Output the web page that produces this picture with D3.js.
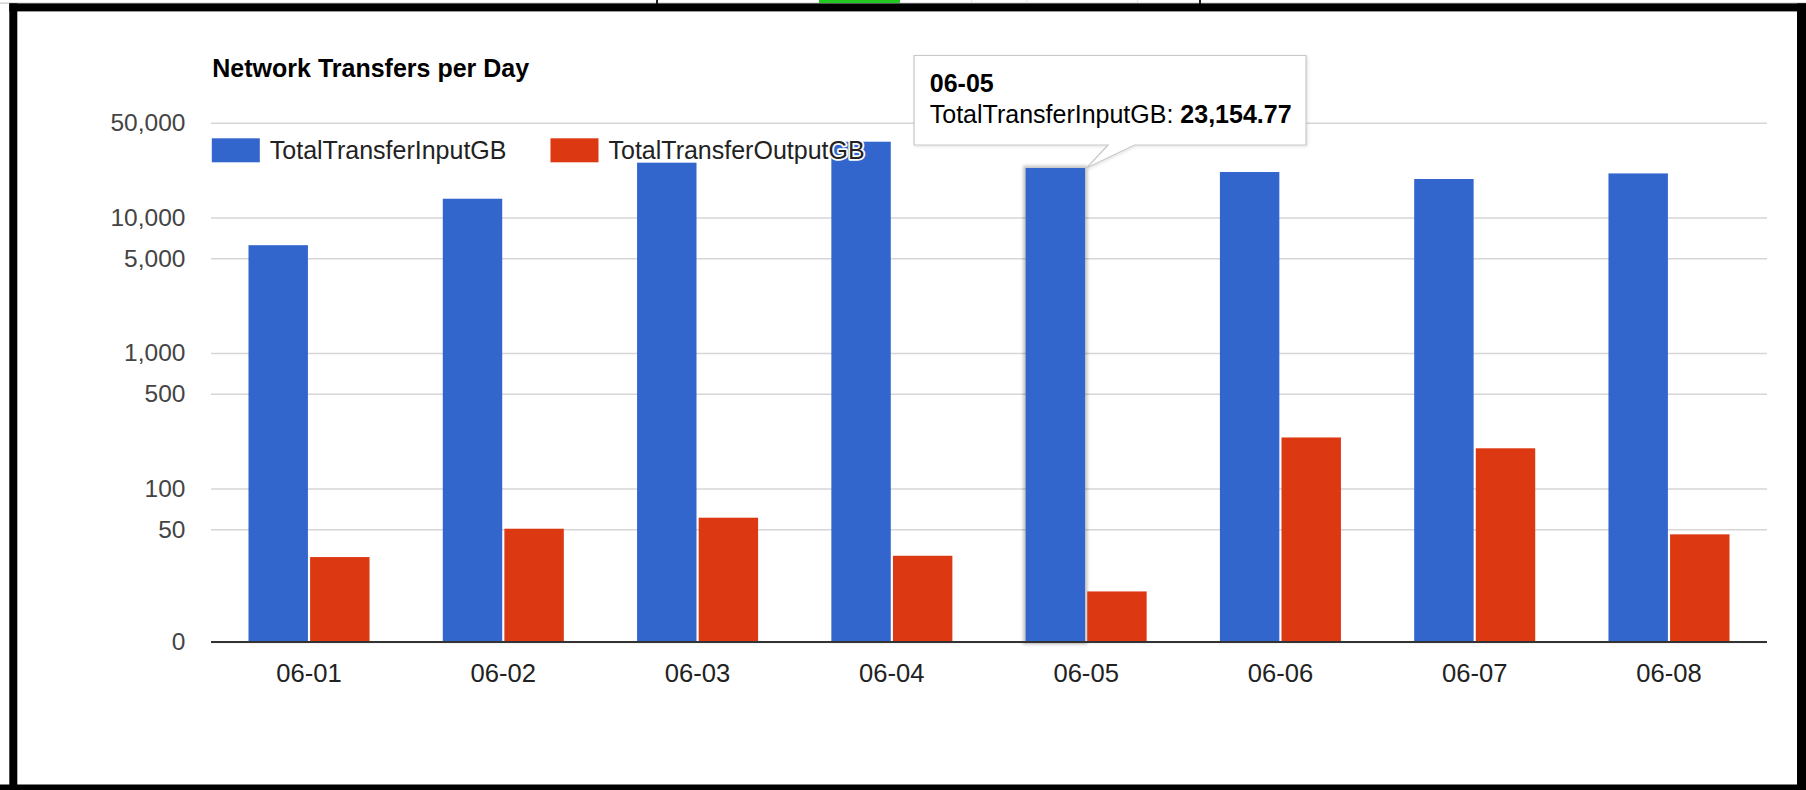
<!DOCTYPE html>
<html>
<head>
<meta charset="utf-8">
<script src="https://cdn.jsdelivr.net/npm/d3@7"></script>
<style>
  body { margin: 0; background: #fff; }
  svg { display: block; }
  text { font-family: "Liberation Sans", Arial, sans-serif; }
</style>
</head>
<body>
<svg id="chart" width="1806" height="790"></svg>
<script>
// ---------------- data ----------------
const categories = ["06-01", "06-02", "06-03", "06-04", "06-05", "06-06", "06-07", "06-08"];
const seriesNames = ["TotalTransferInputGB", "TotalTransferOutputGB"];
const inputGB  = [6240, 13740, 25350, 36200, 23154.77, 21630, 19210, 21120];
const outputGB = [31.2, 50.5, 60.9, 31.9, 17.4, 238, 198, 45.9];
const yTickValues = [50, 100, 500, 1000, 5000, 10000, 50000];
const yBaselineValue = 7.37;   // value sitting on the baseline (labelled "0")
const yBaselineLabel = "0";
const yTopValue = 50000;
const chartTitle = "Network Transfers per Day";
const tooltipCategory = "06-05";
const tooltipSeries = 0;

// ---------------- layout ----------------
const W = 1806, H = 790;
const L = 211, R = 1767, T = 122.7, B = 642;
const colors = ["#3366cc", "#dc3912"];
const FS = 24.5;

const svg = d3.select("#chart");
const defs = svg.append("defs");
defs.append("filter").attr("id", "blur").attr("x", "-20%").attr("y", "-20%").attr("width", "140%").attr("height", "140%")
  .append("feGaussianBlur").attr("stdDeviation", 1.6);
const sh = defs.append("filter").attr("id", "tipShadow").attr("x", "-10%").attr("y", "-10%").attr("width", "130%").attr("height", "140%");
sh.append("feDropShadow").attr("dx", 1).attr("dy", 1).attr("stdDeviation", 1.5).attr("flood-color", "#000").attr("flood-opacity", 0.12);

svg.append("rect").attr("width", W).attr("height", H).attr("fill", "#fff");

// ---------------- scales ----------------
const x0 = d3.scaleBand().domain(categories).range([L, R]).paddingInner(0.377).paddingOuter(0.193);
const x1 = d3.scaleBand().domain(d3.range(seriesNames.length)).range([0, x0.bandwidth()]).paddingInner(0.035);
const y = d3.scaleLog().domain([yBaselineValue, yTopValue]).range([B, T]);
const fmt = d3.format(",");

// ---------------- grid + y labels ----------------
const yAxis = d3.axisLeft(y)
  .tickValues([yBaselineValue].concat(yTickValues))
  .tickSize(-(R - L))
  .tickPadding(25.6)
  .tickFormat(d => d === yBaselineValue ? yBaselineLabel : fmt(d));
const gy = svg.append("g").attr("transform", `translate(${L},0)`).call(yAxis);
gy.select(".domain").remove();
gy.selectAll(".tick line").attr("stroke", "#d6d6d6").attr("stroke-width", 1.6);
gy.selectAll(".tick text").attr("font-size", FS).attr("fill", "#444").attr("font-family", "'Liberation Sans', Arial, sans-serif");

// ---------------- bars ----------------
const series = [inputGB, outputGB];
const rows = [];
categories.forEach((c, i) => series.forEach((s, k) => rows.push({ c, k, v: s[i] })));

// hover highlight behind tooltip bar
const hi = rows.find(d => d.c === tooltipCategory && d.k === tooltipSeries);
svg.append("rect")
  .attr("x", x0(hi.c) + x1(hi.k) - 2.5)
  .attr("y", y(hi.v) - 2.5)
  .attr("width", x1.bandwidth() + 5)
  .attr("height", B - y(hi.v) + 5)
  .attr("fill", "#000").attr("opacity", 0.22)
  .attr("filter", "url(#blur)");

svg.append("g").selectAll("rect").data(rows).join("rect")
  .attr("x", d => x0(d.c) + x1(d.k))
  .attr("y", d => y(d.v))
  .attr("width", x1.bandwidth())
  .attr("height", d => B - y(d.v))
  .attr("fill", d => colors[d.k]);

// baseline
svg.append("line").attr("x1", L).attr("x2", R).attr("y1", y(yBaselineValue)).attr("y2", y(yBaselineValue))
  .attr("stroke", "#333").attr("stroke-width", 2);

// ---------------- x labels ----------------
const XFS = 25.6;
const xAxis = d3.axisBottom(x0).tickSize(0).tickPadding(21.5);
const gx = svg.append("g").attr("transform", `translate(0,${B})`).call(xAxis);
gx.select(".domain").remove();
gx.selectAll(".tick text").attr("font-size", XFS).attr("fill", "#222").attr("font-family", "'Liberation Sans', Arial, sans-serif");

// ---------------- title ----------------
svg.append("text").attr("x", 212.3).attr("y", 76.5)
  .attr("font-size", 25).attr("font-weight", "bold").attr("fill", "#000")
  .text(chartTitle);

// ---------------- legend ----------------
const LFS = 25;
const legY = 150.3;
let lx = 211.8;
seriesNames.forEach((name, k) => {
  svg.append("rect").attr("x", lx).attr("y", legY - 12).attr("width", 48).attr("height", 24).attr("fill", colors[k]);
  const t = svg.append("text").attr("x", lx + 58).attr("y", legY).attr("dy", "0.35em")
    .attr("font-size", LFS).attr("fill", "#222")
    .attr("stroke", "#fff").attr("stroke-width", 3.5).attr("stroke-linejoin", "round")
    .attr("paint-order", "stroke")
    .text(name);
  lx = lx + 58 + t.node().getComputedTextLength() + 44;
});

// ---------------- tooltip ----------------
const TFS = 25;
const tipX = x0(hi.c) + x1(hi.k) + x1.bandwidth() + 1.5;
const tipY = y(hi.v);
const bx0 = tipX - 172.5, bx1 = tipX + 219.5, by0 = tipY - 112.5, by1 = tipY - 23;
const tl = tipX + 21.5, tr = tipX + 48;
const tg = svg.append("g");
tg.append("path")
  .attr("d", `M${bx0},${by0}H${bx1}V${by1}H${tr}L${tipX},${tipY}L${tl},${by1}H${bx0}Z`)
  .attr("fill", "#fff").attr("stroke", "#c8c8c8").attr("stroke-width", 1.2)
  .attr("filter", "url(#tipShadow)");
tg.append("text").attr("x", bx0 + 15.7).attr("y", by0 + 36)
  .attr("font-size", TFS).attr("font-weight", "bold").attr("fill", "#000")
  .text(hi.c);
const t2 = tg.append("text").attr("x", bx0 + 15.7).attr("y", by0 + 67.6)
  .attr("font-size", TFS).attr("fill", "#000");
t2.append("tspan").text(seriesNames[hi.k] + ": ");
t2.append("tspan").attr("font-weight", "bold").text(d3.format(",.2f")(hi.v));

// ---------------- window frame ----------------
svg.append("rect").attr("x", 0).attr("y", 2.6).attr("width", W).attr("height", 1).attr("fill", "#bbb");
svg.append("rect").attr("x", 819).attr("y", 0).attr("width", 81).attr("height", 3).attr("fill", "#22c822");
[656, 1199].forEach(xx => svg.append("rect").attr("x", xx).attr("y", 0).attr("width", 2).attr("height", 4).attr("fill", "#222"));
[971, 1026.5, 1137].forEach(xx => svg.append("rect").attr("x", xx).attr("y", 0).attr("width", 1).attr("height", 3).attr("fill", "#e4e4e4"));
svg.append("rect").attr("x", 9.3).attr("y", 3.4).attr("width", W - 9.3).attr("height", 8).attr("fill", "#000");
svg.append("rect").attr("x", 9.3).attr("y", 3.4).attr("width", 8).attr("height", H).attr("fill", "#000");
svg.append("rect").attr("x", 1797).attr("y", 3.4).attr("width", 9).attr("height", H).attr("fill", "#000");
svg.append("rect").attr("x", 0).attr("y", 784.5).attr("width", W).attr("height", 6).attr("fill", "#000");
</script>
</body>
</html>
